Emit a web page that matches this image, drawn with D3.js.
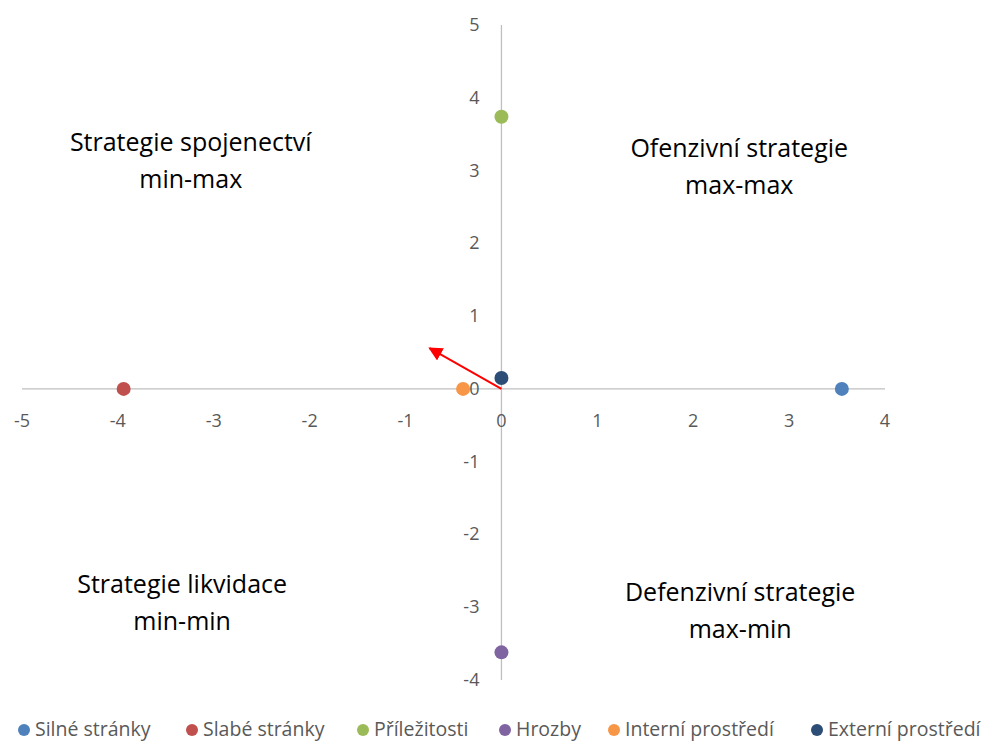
<!DOCTYPE html>
<html lang="cs">
<head>
  <meta charset="utf-8">
  <title>SWOT</title>
  <script src="https://d3js.org/d3.v7.min.js"></script>
  <style>
    body { margin: 0; background: #fff; }
    text { font-family: "Open Sans", "Liberation Sans", sans-serif; }
  </style>
</head>
<body>
  <div id="chart"></div>
  <script>
    "use strict"

    // data
    var serie = ["Silné stránky", "Slabé stránky", "Příležitosti", "Hrozby", "Interní prostředí", "Externí prostředí"];
    var hodnotyX = [3.55, -3.94, 0, 0, -0.40, 0];
    var hodnotyY = [0, 0, 3.74, -3.62, 0, 0.15];
    var barvy = ["#4f81bd", "#c0504d", "#9bbb59", "#8064a2", "#f79646", "#2c4d75"];
    var sipka = [-0.75, 0.56];
    var ticksX = [-5, -4, -3, -2, -1, 0, 1, 2, 3, 4];
    var ticksY = [-4, -3, -2, -1, 0, 1, 2, 3, 4, 5];
    var kvadranty = [
      {x: -3.24, y: 3.38, radky: ["Strategie spojenectví", "min-max"]},
      {x: 2.48, y: 3.30, radky: ["Ofenzivní strategie", "max-max"]},
      {x: -3.33, y: -2.70, radky: ["Strategie likvidace", "min-min"]},
      {x: 2.49, y: -2.80, radky: ["Defenzivní strategie", "max-min"]}
    ];

    var sirka = 998, vyska = 743;
    var svg = d3.select("#chart").append("svg")
        .attr("width", sirka)
        .attr("height", vyska);

    var x = d3.scaleLinear().domain([-5, 4]).range([22, 885]);
    var y = d3.scaleLinear().domain([-4, 5]).range([680, 25]);

    // osy
    svg.append("line")
        .attr("x1", x(-5)).attr("x2", x(4))
        .attr("y1", y(0)).attr("y2", y(0))
        .attr("stroke", "#bfbfbf").attr("stroke-width", 1.3);
    svg.append("line")
        .attr("x1", x(0)).attr("x2", x(0))
        .attr("y1", y(5)).attr("y2", y(-4))
        .attr("stroke", "#bfbfbf").attr("stroke-width", 1.3);

    svg.selectAll(".tx").data(ticksX).enter().append("text")
        .attr("x", d => x(d))
        .attr("y", y(0) + 38)
        .attr("text-anchor", "middle")
        .attr("font-size", 18)
        .attr("fill", "#595959")
        .text(d => d);

    svg.selectAll(".ty").data(ticksY).enter().append("text")
        .attr("x", x(0) - 22)
        .attr("y", d => y(d) + 6)
        .attr("text-anchor", "end")
        .attr("font-size", 18)
        .attr("fill", "#595959")
        .text(d => d);

    // sipka
    svg.append("defs").append("marker")
        .attr("id", "hrot")
        .attr("viewBox", "0 0 10 10")
        .attr("refX", 9).attr("refY", 5)
        .attr("markerWidth", 7).attr("markerHeight", 7)
        .attr("markerUnits", "strokeWidth")
        .attr("orient", "auto")
        .append("path").attr("d", "M0,0 L10,5 L0,10 z").attr("fill", "#ff0000");

    svg.append("line")
        .attr("x1", x(0)).attr("y1", y(0))
        .attr("x2", x(sipka[0])).attr("y2", y(sipka[1]))
        .attr("stroke", "#ff0000").attr("stroke-width", 2)
        .attr("marker-end", "url(#hrot)");

    // body
    svg.selectAll(".bod").data(serie).enter().append("circle")
        .attr("cx", (d, i) => x(hodnotyX[i]))
        .attr("cy", (d, i) => y(hodnotyY[i]))
        .attr("r", 7)
        .attr("fill", (d, i) => barvy[i]);

    // popisky kvadrantu
    kvadranty.forEach(function(k) {
      var t = svg.append("text")
          .attr("text-anchor", "middle")
          .attr("font-size", 25)
          .attr("fill", "#000");
      k.radky.forEach(function(r, j) {
        t.append("tspan")
            .attr("x", x(k.x))
            .attr("y", y(k.y) + 8 + j * 37)
            .text(r);
      });
    });

    // legenda
    var legX = [24, 192, 363, 505, 614, 817];
    var leg = svg.selectAll(".leg").data(serie).enter().append("g")
        .attr("transform", (d, i) => "translate(" + legX[i] + "," + 730 + ")");
    leg.append("circle").attr("r", 6).attr("fill", (d, i) => barvy[i]);
    leg.append("text")
        .attr("x", 11).attr("y", 6)
        .attr("font-size", 19.5)
        .attr("fill", "#595959")
        .text(d => d);
  </script>
</body>
</html>
